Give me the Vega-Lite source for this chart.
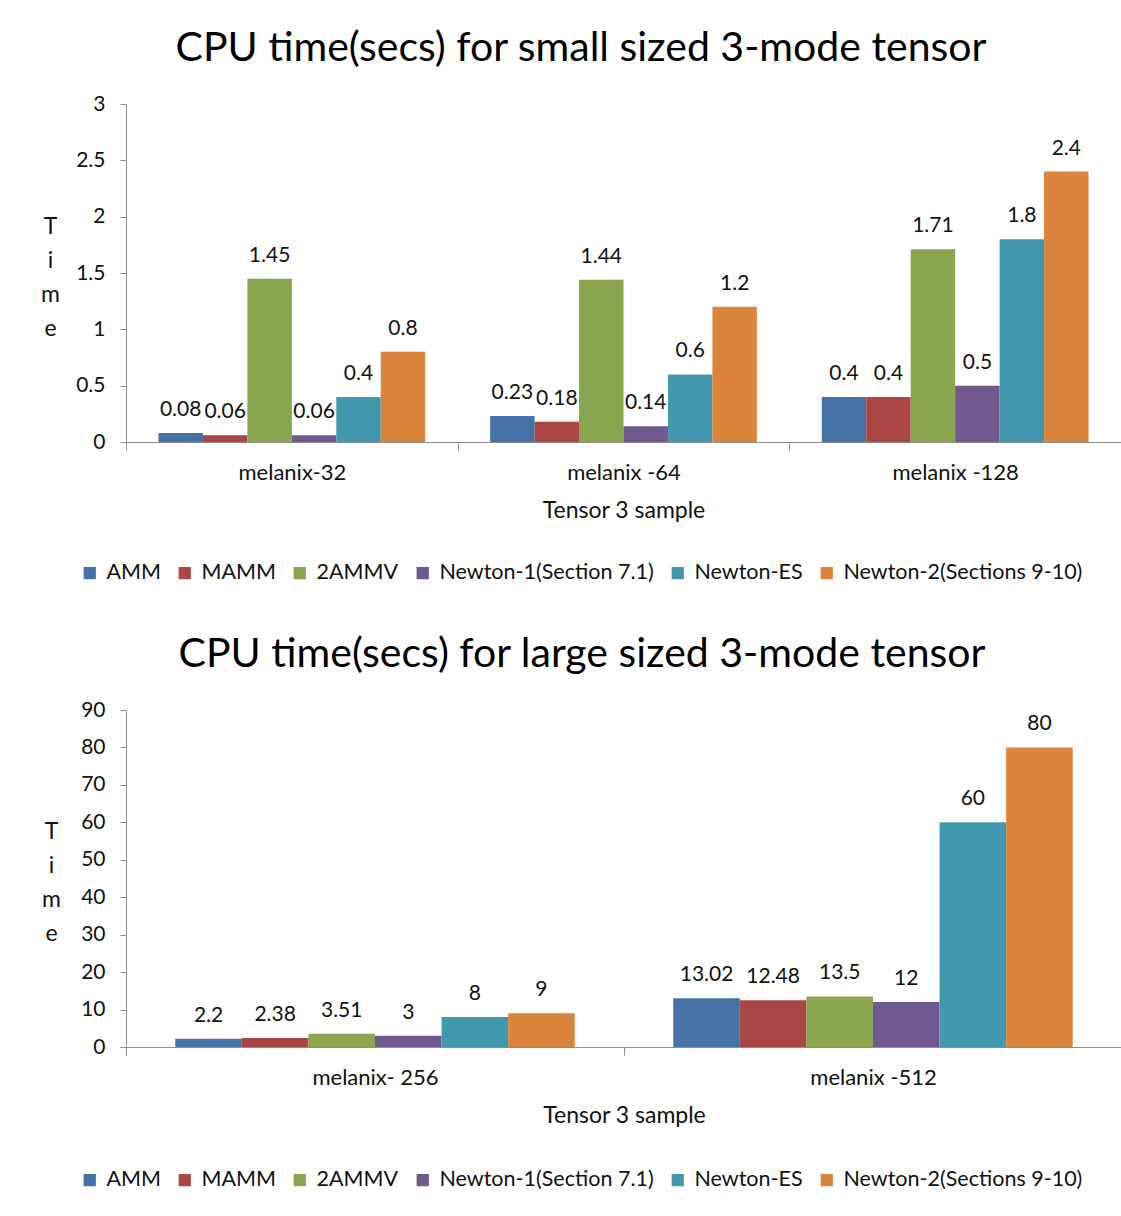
{
  "$schema": "https://vega.github.io/schema/vega-lite/v6.json",
  "padding": {"left": 40, "top": 28, "right": 0, "bottom": 10},
  "background": "white",
  "spacing": 50,
  "datasets": {
    "small": [
      {"sample": "melanix-32", "method": "AMM", "value": 0.08},
      {"sample": "melanix-32", "method": "MAMM", "value": 0.06},
      {"sample": "melanix-32", "method": "2AMMV", "value": 1.45},
      {"sample": "melanix-32", "method": "Newton-1(Section 7.1)", "value": 0.06},
      {"sample": "melanix-32", "method": "Newton-ES", "value": 0.4},
      {"sample": "melanix-32", "method": "Newton-2(Sections 9-10)", "value": 0.8},
      {"sample": "melanix -64", "method": "AMM", "value": 0.23},
      {"sample": "melanix -64", "method": "MAMM", "value": 0.18},
      {"sample": "melanix -64", "method": "2AMMV", "value": 1.44},
      {"sample": "melanix -64", "method": "Newton-1(Section 7.1)", "value": 0.14},
      {"sample": "melanix -64", "method": "Newton-ES", "value": 0.6},
      {"sample": "melanix -64", "method": "Newton-2(Sections 9-10)", "value": 1.2},
      {"sample": "melanix -128", "method": "AMM", "value": 0.4},
      {"sample": "melanix -128", "method": "MAMM", "value": 0.4},
      {"sample": "melanix -128", "method": "2AMMV", "value": 1.71},
      {"sample": "melanix -128", "method": "Newton-1(Section 7.1)", "value": 0.5},
      {"sample": "melanix -128", "method": "Newton-ES", "value": 1.8},
      {"sample": "melanix -128", "method": "Newton-2(Sections 9-10)", "value": 2.4}
    ],
    "large": [
      {"sample": "melanix- 256", "method": "AMM", "value": 2.2},
      {"sample": "melanix- 256", "method": "MAMM", "value": 2.38},
      {"sample": "melanix- 256", "method": "2AMMV", "value": 3.51},
      {"sample": "melanix- 256", "method": "Newton-1(Section 7.1)", "value": 3},
      {"sample": "melanix- 256", "method": "Newton-ES", "value": 8},
      {"sample": "melanix- 256", "method": "Newton-2(Sections 9-10)", "value": 9},
      {"sample": "melanix -512", "method": "AMM", "value": 13.02},
      {"sample": "melanix -512", "method": "MAMM", "value": 12.48},
      {"sample": "melanix -512", "method": "2AMMV", "value": 13.5},
      {"sample": "melanix -512", "method": "Newton-1(Section 7.1)", "value": 12},
      {"sample": "melanix -512", "method": "Newton-ES", "value": 60},
      {"sample": "melanix -512", "method": "Newton-2(Sections 9-10)", "value": 80}
    ]
  },
  "config": {
    "font": "Lato",
    "view": {"stroke": null},
    "title": {"fontSize": 41, "fontWeight": "normal", "color": "#000", "anchor": "middle", "offset": 23, "frame": "bounds"},
    "axis": {
      "domainColor": "#8c8c8c",
      "tickColor": "#8c8c8c",
      "labelColor": "#111",
      "titleColor": "#111",
      "labelFontSize": 21,
      "titleFontSize": 23,
      "titleFontWeight": "normal",
      "grid": false
    },
    "axisX": {"labelFontSize": 22},
    "legend": {
      "orient": "none",
      "direction": "horizontal",
      "columns": 6,
      "symbolType": "square",
      "symbolSize": 150,
      "symbolStrokeWidth": 0,
      "labelFontSize": 21.5,
      "labelColor": "#111",
      "labelLimit": 0,
      "columnPadding": 13,
      "labelOffset": 6,
      "title": null
    }
  },
  "resolve": {
    "legend": {"color": "independent"},
    "scale": {"x": "independent", "xOffset": "independent", "y": "independent"}
  },
  "vconcat": [
    {
      "title": "CPU time(secs) for small sized 3-mode tensor",
      "width": 995,
      "height": 338,
      "data": {"name": "small"},
      "encoding": {
        "x": {
          "field": "sample", "type": "nominal", "sort": null,
          "scale": {"paddingInner": 0, "paddingOuter": 0},
          "axis": {"title": "Tensor 3 sample", "labelAngle": 0, "tickBand": "extent", "tickSize": 8, "labelPadding": 12, "titlePadding": 16}
        },
        "xOffset": {
          "field": "method", "type": "nominal", "sort": null,
          "scale": {"paddingInner": 0, "paddingOuter": 0.73}
        },
        "y": {
          "field": "value", "type": "quantitative",
          "scale": {"domain": [0, 3]},
          "axis": {"values": [0, 0.5, 1, 1.5, 2, 2.5, 3], "format": "~g", "title": ["T", "i", "m", "e"], "titleAngle": 0, "titleAlign": "center", "titleBaseline": "middle", "titleLineHeight": 34, "titleX": -76, "titleY": 122, "tickSize": 6, "labelPadding": 15}
        }
      },
      "layer": [
        {
          "mark": {"type": "bar"},
          "encoding": {
            "color": {
              "field": "method", "type": "nominal", "sort": null,
              "scale": {"domain": ["AMM", "MAMM", "2AMMV", "Newton-1(Section 7.1)", "Newton-ES", "Newton-2(Sections 9-10)"], "range": ["#4572A7", "#AA4643", "#89A54E", "#71588F", "#4198AF", "#DB843D"]},
              "legend": {"legendX": -47, "legendY": 458}
            }
          }
        },
        {
          "mark": {"type": "text", "baseline": "bottom", "dy": -13, "fontSize": 21, "color": "#111"},
          "encoding": {"text": {"field": "value", "type": "quantitative", "format": "~g"}}
        }
      ]
    },
    {
      "title": "CPU time(secs) for large sized 3-mode tensor",
      "width": 996,
      "height": 337,
      "data": {"name": "large"},
      "encoding": {
        "x": {
          "field": "sample", "type": "nominal", "sort": null,
          "scale": {"paddingInner": 0, "paddingOuter": 0},
          "axis": {"title": "Tensor 3 sample", "labelAngle": 0, "tickBand": "extent", "tickSize": 8, "labelPadding": 12, "titlePadding": 16}
        },
        "xOffset": {
          "field": "method", "type": "nominal", "sort": null,
          "scale": {"paddingInner": 0, "paddingOuter": 0.74}
        },
        "y": {
          "field": "value", "type": "quantitative",
          "scale": {"domain": [0, 90]},
          "axis": {"values": [0, 10, 20, 30, 40, 50, 60, 70, 80, 90], "title": ["T", "i", "m", "e"], "titleAngle": 0, "titleAlign": "center", "titleBaseline": "middle", "titleLineHeight": 34, "titleX": -75, "titleY": 121, "tickSize": 6, "labelPadding": 15}
        }
      },
      "layer": [
        {
          "mark": {"type": "bar"},
          "encoding": {
            "color": {
              "field": "method", "type": "nominal", "sort": null,
              "scale": {"domain": ["AMM", "MAMM", "2AMMV", "Newton-1(Section 7.1)", "Newton-ES", "Newton-2(Sections 9-10)"], "range": ["#4572A7", "#AA4643", "#89A54E", "#71588F", "#4198AF", "#DB843D"]},
              "legend": {"legendX": -47, "legendY": 459}
            }
          }
        },
        {
          "mark": {"type": "text", "baseline": "bottom", "dy": -13, "fontSize": 21, "color": "#111"},
          "encoding": {"text": {"field": "value", "type": "quantitative", "format": "~g"}}
        }
      ]
    }
  ]
}
